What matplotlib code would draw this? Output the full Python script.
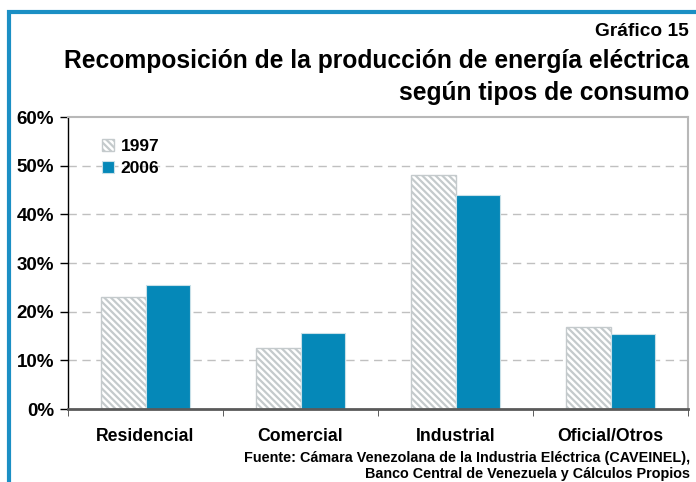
import matplotlib.pyplot as plt
import numpy as np
from matplotlib.patches import Rectangle

plt.rcParams['font.family'] = ['Liberation Sans', 'DejaVu Sans']
plt.rcParams['font.weight'] = 'bold'
plt.rcParams['hatch.color'] = '#c4c4c4'
plt.rcParams['hatch.linewidth'] = 1.6

categories = ['Residencial', 'Comercial', 'Industrial', 'Oficial/Otros']
v1997 = [23.0, 12.5, 48.0, 16.8]
v2006 = [25.5, 15.6, 44.0, 15.4]
yticks = [0, 10, 20, 30, 40, 50, 60]

blue = '#0588b8'
frame_blue = '#1b8fc4'

fig = plt.figure(figsize=(6.96, 4.82), dpi=100)
ax = fig.add_axes([68/696, 1 - 409/482, 620/696, 292/482])

x = np.arange(len(categories))
w = 0.29
ax.bar(x - w/2, v1997, w, color='white', edgecolor='#c4cacc', hatch='\\' * 5,
       linewidth=1, label='1997', zorder=3)
ax.bar(x + w/2, v2006, w, color=blue, edgecolor='#c8e0e8', linewidth=0.8,
       label='2006', zorder=3)

ax.set_xlim(-0.5, len(categories) - 0.5)
ax.set_ylim(0, 60)
ax.set_yticks(yticks)
ax.set_yticklabels([f'{t}%' for t in yticks], fontsize=13.5, fontweight='bold')
ax.set_xticks(x)
ax.set_xticklabels(categories, fontsize=12.7, fontweight='bold')
ax.tick_params(axis='x', length=0, pad=14)
ax.set_xticks(np.arange(-0.5, len(categories)), minor=True)
ax.tick_params(axis='x', which='minor', length=5, direction='out', color='#404040')
ax.tick_params(axis='y', length=6, direction='out', width=1, color='black', pad=4)

for t in yticks[1:-1]:
    ax.axhline(t, color='#c0c0c0', linestyle=(0, (6, 4)), linewidth=1, zorder=1)

ax.spines['left'].set_color('black')
ax.spines['left'].set_linewidth(1)
ax.spines['bottom'].set_color('#5a5a5a')
ax.spines['bottom'].set_linewidth(2)
ax.spines['bottom'].set_zorder(4)
ax.spines['top'].set_color('#b8b8b8')
ax.spines['top'].set_linewidth(1.5)
ax.spines['right'].set_color('#b8b8b8')
ax.spines['right'].set_linewidth(1.5)

leg = ax.legend(loc='upper left', bbox_to_anchor=(0.029, 0.977), frameon=False,
                prop={'weight': 'bold', 'size': 12.5}, handlelength=0.7,
                handleheight=0.7, handletextpad=0.4, labelspacing=0.35)

# blue frame around the chart
fig.patches.append(Rectangle((9/696, -0.1), 1.2, 1 - 12/482 + 0.1,
                             transform=fig.transFigure, fill=False,
                             edgecolor=frame_blue, linewidth=3))

fig.text(689/696, 1 - 36/482, 'Gráfico 15', ha='right', va='baseline',
         fontsize=13.8, fontweight='bold')
fig.text(689/696, 1 - 68/482, 'Recomposición de la producción de energía eléctrica',
         ha='right', va='baseline', fontsize=17.7, fontweight='bold')
fig.text(689/696, 1 - 100/482, 'según tipos de consumo', ha='right',
         va='baseline', fontsize=17.7, fontweight='bold')
fig.text(690/696, 1 - 462/482,
         'Fuente: Cámara Venezolana de la Industria Eléctrica (CAVEINEL),',
         ha='right', va='baseline', fontsize=10.4, fontweight='bold')
fig.text(690/696, 1 - 478/482,
         'Banco Central de Venezuela y Cálculos Propios',
         ha='right', va='baseline', fontsize=10.4, fontweight='bold')

fig.savefig('out.png', dpi=100)
